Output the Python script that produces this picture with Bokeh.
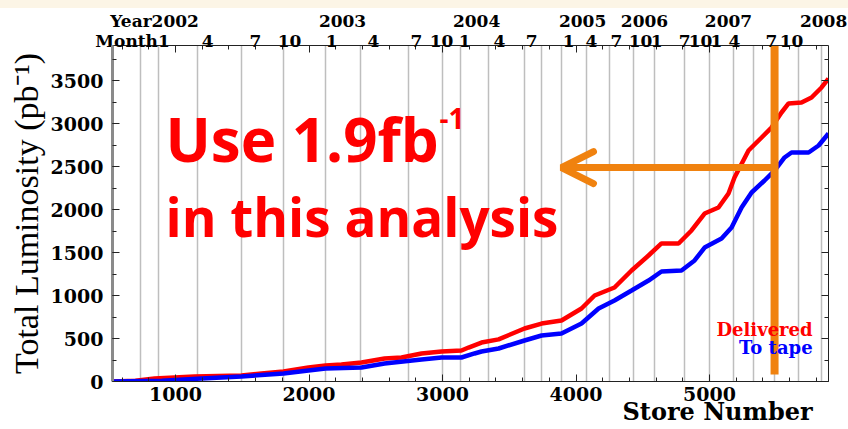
import numpy as np
from bokeh.plotting import figure
from bokeh.models import (LinearAxis, FixedTicker, SingleIntervalTicker, Label,
                          Arrow, OpenHead, Range1d)
from bokeh.embed import file_html
from bokeh.resources import INLINE

# ---------------- data ----------------
delivered_store = [528, 700, 843, 1142, 1494, 1644, 1809, 1996, 2124, 2243, 2393, 2566, 2693,
                   2843, 2993, 3142, 3195, 3292, 3420, 3614, 3742, 3891, 4041, 4139, 4288,
                   4416, 4543, 4640, 4768, 4865, 4963, 5067, 5142, 5187, 5292, 5390, 5464,
                   5539, 5592, 5689, 5764, 5839, 5891]
delivered_lumi = [0, 10, 35, 58, 70, 93, 116, 163, 186, 198, 221, 267, 279,
                  326, 349, 360, 395, 453, 490, 616, 674, 709, 849, 1000, 1093,
                  1291, 1465, 1605, 1605, 1756, 1953, 2023, 2186, 2372, 2686, 2837, 2953,
                  3128, 3233, 3244, 3302, 3419, 3523]

tape_store = [528, 900, 1195, 1494, 1809, 1996, 2124, 2393, 2566, 2843, 2993, 3142, 3240,
              3292, 3420, 3614, 3742, 3891, 4041, 4169, 4288, 4416, 4543, 4640, 4790,
              4888, 4963, 5090, 5165, 5240, 5315, 5412, 5487, 5562, 5614, 5742, 5817, 5891]
tape_lumi = [0, 10, 35, 58, 93, 128, 151, 163, 209, 256, 279, 279, 326,
             349, 384, 477, 535, 558, 674, 849, 942, 1058, 1174, 1279, 1291,
             1407, 1558, 1663, 1791, 2023, 2198, 2337, 2453, 2605, 2663, 2663, 2744, 2884]

grid_store = [738, 873, 1165, 1494, 1809, 2124, 2386, 2745, 3000, 3135, 3345, 3614, 3742,
              3891, 4079, 4251, 4431, 4588, 4813, 5000, 5180, 5330, 5487, 5667, 5839]

month_store = [678, 1240, 1599, 1854, 2169, 2483, 2805, 2993, 3165, 3427, 3667, 3944, 4116,
               4303, 4483, 4603, 4813, 4933, 5052, 5187, 5464, 5614]
month_labels = ["Month1", "4", "7", "10", "1", "4", "7", "10", "1", "4", "7", "1", "4",
                "7", "10", "1", "7", "10", "1", "4", "7", "10"]

year_store = [843, 2251, 3255, 4049, 4513, 5142, 5854]
year_labels = ["Year2002", "2003", "2004", "2005", "2006", "2007", "2008"]

x_range = (528, 5891)
y_range = (0, 3907)

RED = "#FF0000"
BLUE = "#0000FF"
ORANGE = "#F0820F"
SERIF = "DejaVu Serif"

p = figure(width=848, height=429, output_backend="svg", toolbar_location=None,
           x_range=Range1d(*x_range), y_range=Range1d(*y_range),
           min_border_left=112, min_border_right=20, min_border_top=45, min_border_bottom=48,
           styles={"background": "linear-gradient(to bottom, #FCF5E6 0px, #FCF5E6 8px, "
                                 "#FFFFFF 8px, #FFFFFF 100%)"})
p.outline_line_color = None
p.background_fill_color = "white"
p.border_fill_color = None

# axes
xb = p.xaxis[0]
yl = p.yaxis[0]
xb.ticker = SingleIntervalTicker(interval=1000, num_minor_ticks=5)
yl.ticker = SingleIntervalTicker(interval=500, num_minor_ticks=2)
xt = LinearAxis(ticker=SingleIntervalTicker(interval=1000, num_minor_ticks=5))
yr = LinearAxis(ticker=SingleIntervalTicker(interval=500, num_minor_ticks=2))
p.add_layout(xt, "above")
p.add_layout(yr, "right")

for ax in (xb, yl, xt, yr):
    ax.major_tick_in = 7
    ax.major_tick_out = 0
    ax.minor_tick_in = 4
    ax.minor_tick_out = 0
    ax.axis_line_color = "#222222"
    ax.major_tick_line_color = "#222222"
    ax.minor_tick_line_color = "#222222"
    ax.major_label_text_font = SERIF
    ax.major_label_text_font_style = "bold"
    ax.major_label_text_font_size = "19px"
    ax.major_label_text_color = "black"
# top/right axes: tick marks only, labels not drawn
for ax in (xt, yr):
    ax.major_label_text_font_size = "1px"
    ax.major_label_text_color = None
    ax.major_label_standoff = 0
yl.axis_line_color = "#8a8a8a"
yl.axis_line_width = 3
xb.major_label_standoff = 5
yl.major_label_standoff = 9

# y-axis title
yl.axis_label = "Total Luminosity (pb\u207b\u00b9)"
yl.axis_label_text_font = "Liberation Serif"
yl.axis_label_text_font_style = "normal"
yl.axis_label_text_font_size = "34px"
yl.axis_label_text_color = "black"
yl.axis_label_standoff = 3


def label_axis(ticks, labels, standoff, size):
    ax = LinearAxis(ticker=FixedTicker(ticks=ticks, minor_ticks=[]),
                    major_label_overrides={t: l for t, l in zip(ticks, labels)})
    ax.axis_line_color = None
    ax.major_tick_line_color = None
    ax.minor_tick_line_color = None
    ax.major_tick_out = 0
    ax.major_tick_in = 0
    ax.major_label_standoff = standoff
    ax.major_label_text_font = SERIF
    ax.major_label_text_font_style = "bold"
    ax.major_label_text_font_size = size
    ax.major_label_text_color = "black"
    return ax


# month and year rows above the frame
p.add_layout(label_axis(month_store, month_labels, -5, "17px"), "above")
p.add_layout(label_axis(year_store, year_labels, -3, "17px"), "above")

# "Store Number" below, right side
p.add_layout(label_axis([5060], ["Store Number"], -7, "24px"), "below")

# grid
p.xgrid.ticker = FixedTicker(ticks=grid_store)
p.xgrid.grid_line_color = "#BEBEBE"
p.xgrid.grid_line_width = 1.5
p.ygrid.visible = False

# curves
p.line(delivered_store, delivered_lumi, line_color=RED, line_width=4.5)
p.line(tape_store, tape_lumi, line_color=BLUE, line_width=4.5)

# legend texts
p.add_layout(Label(x=5772, y=488, text="Delivered", text_color=RED, text_font=SERIF,
                   text_font_style="bold", text_font_size="18px", text_align="right"))
p.add_layout(Label(x=5772, y=279, text="To tape", text_color=BLUE, text_font=SERIF,
                   text_font_style="bold", text_font_size="18px", text_align="right"))

# annotation text
p.add_layout(Label(x=925, y=2343, text="Use 1.9fb", text_font="Open Sans", text_font_style="bold",
                   text_font_size="60px", text_color=RED))
p.add_layout(Label(x=2978, y=2936, text="-1", text_font="Open Sans", text_font_style="bold",
                   text_font_size="28px", text_color=RED))
p.add_layout(Label(x=925, y=1500, text="in this analysis", text_font="Open Sans",
                   text_font_style="bold", text_font_size="53px", text_color=RED))

# orange markers
p.segment(x0=[5487], y0=[81], x1=[5487], y1=[3907], line_color=ORANGE, line_width=8)
p.add_layout(Arrow(end=OpenHead(size=32, line_color=ORANGE, line_width=7, line_cap="round"),
                   x_start=5487, y_start=2488, x_end=3891, y_end=2488,
                   line_color=ORANGE, line_width=7))

open("out.html", "w").write(file_html(p, INLINE))
